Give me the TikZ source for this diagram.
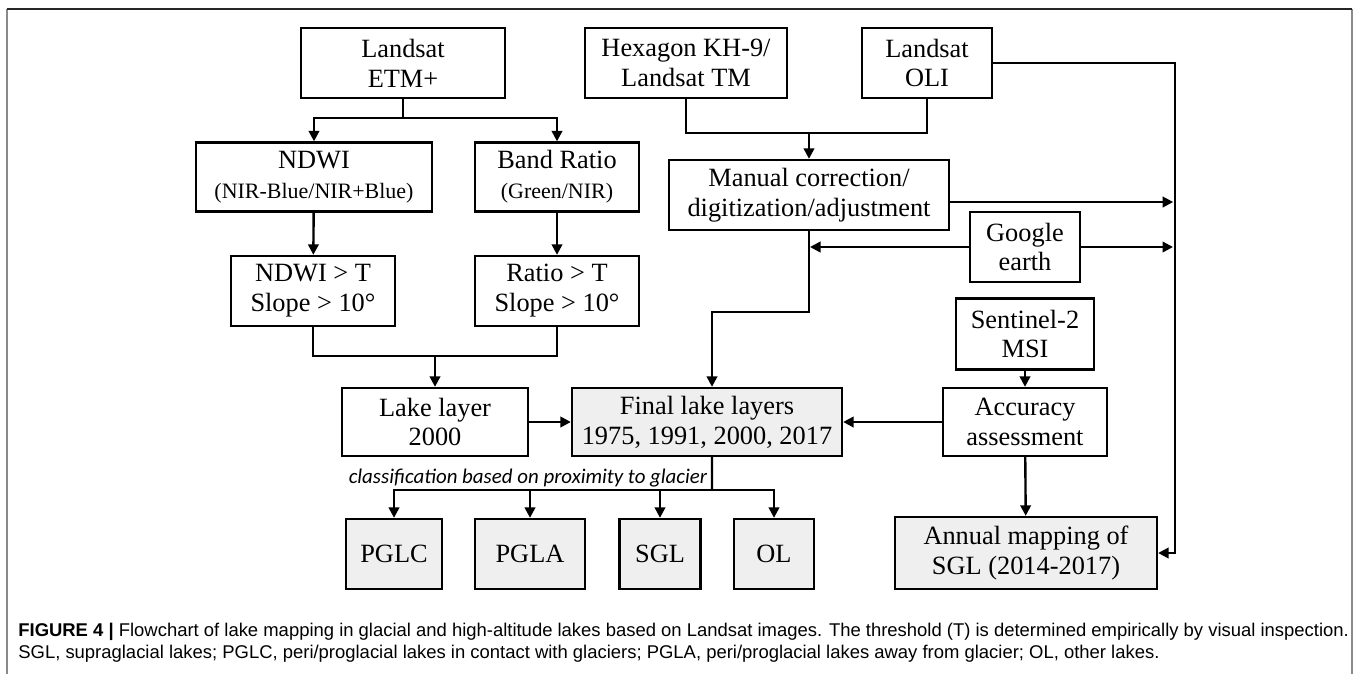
\documentclass[tikz,border=0pt]{standalone}
\usepackage{fontspec}
\setmainfont{Liberation Serif}
\newfontfamily\capfont{Liberation Sans}
\newfontfamily\notefont{Carlito}
\usetikzlibrary{arrows.meta}
\definecolor{layergray}{HTML}{EFEFEF}
\definecolor{framegray}{HTML}{8A8A8A}

\begin{document}
\begin{tikzpicture}[x=0.02cm,y=-0.02cm,
    box/.style={draw,line width=1.35pt,align=center,inner sep=0pt,font=\fontsize{15}{17}\selectfont},
    layer/.style={box,fill=layergray},
    link/.style={line width=1.35pt},
    arr/.style={link,-{Triangle[length=0.21cm,width=0.21cm]}}]
  \useasboundingbox (0,0) rectangle (1360,674);
  \def\sub#1{{\fontsize{12.5}{14}\selectfont #1}}
  % frame
  \draw[framegray,line width=1.2pt] (7,9) -- (7,674) (1352,9) -- (1352,674);
  \draw[black!85,line width=1pt] (7,9) -- (1352,9);

  % sources
  \node[box,minimum width=4.08cm,minimum height=1.4cm] (etm) at (403,63) {Landsat\\ETM+};
  \node[box,minimum width=4.04cm,minimum height=1.4cm] (hex) at (686,63) {Hexagon KH-9/\\Landsat TM};
  \node[box,minimum width=2.6cm,minimum height=1.4cm] (oli) at (927,63) {Landsat\\OLI};

  % left branch
  \node[box,minimum width=4.72cm,minimum height=1.38cm] (ndwi) at (314,177) {NDWI\\\sub{(NIR-Blue/NIR+Blue)}};
  \node[box,minimum width=3.28cm,minimum height=1.38cm] (band) at (557,177) {Band Ratio\\\sub{(Green/NIR)}};
  \node[box,minimum width=3.28cm,minimum height=1.4cm] (ndwit) at (313,291) {NDWI > T\\Slope > 10°};
  \node[box,minimum width=3.28cm,minimum height=1.4cm] (ratiot) at (557,291) {Ratio > T\\Slope > 10°};
  \node[box,minimum width=3.72cm,minimum height=1.36cm] (lake) at (435,422) {Lake layer\\2000};
  \node[layer,minimum width=5.4cm,minimum height=1.36cm] (final) at (707,422) {Final lake layers\\1975, 1991, 2000, 2017};

  % right branch
  \node[box,minimum width=5.6cm,minimum height=1.4cm] (manual) at (809,195) {Manual correction/\\digitization/adjustment};
  \node[box,minimum width=2.2cm,minimum height=1.4cm] (google) at (1025,247) {Google\\earth};
  \node[box,minimum width=2.76cm,minimum height=1.42cm] (sentinel) at (1025,334) {Sentinel-2\\MSI};
  \node[box,minimum width=3.28cm,minimum height=1.36cm] (accuracy) at (1025,422) {Accuracy\\assessment};
  \node[layer,minimum width=5.24cm,minimum height=1.44cm] (annual) at (1026,553) {Annual mapping of\\SGL (2014-2017)};

  % classes
  \node[layer,minimum width=1.92cm,minimum height=1.4cm] (pglc) at (394,554) {PGLC};
  \node[layer,minimum width=2.2cm,minimum height=1.4cm] (pgla) at (530,554) {PGLA};
  \node[layer,minimum width=1.62cm,minimum height=1.4cm] (sgl) at (660,554) {SGL};
  \node[layer,minimum width=1.6cm,minimum height=1.4cm] (ol) at (774,554) {OL};

  % connectors
  \coordinate (etmsplit) at (403,118);
  \draw[link] (etm) -- (etmsplit);
  \draw[arr] (etmsplit) -| (ndwi);
  \draw[arr] (etmsplit) -| (band);
  \draw[arr] (ndwi) -- (ndwit);
  \draw[arr] (band) -- (ratiot);
  \coordinate (join) at (435,356);
  \draw[link] (ndwit) |- (join);
  \draw[link] (ratiot) |- (join);
  \draw[arr] (join) -- (lake);
  \draw[arr] (lake) -- (final);

  \coordinate (merge) at (809,133);
  \draw[link] (hex) |- (merge);
  \draw[link] (oli) |- (merge);
  \draw[arr] (merge) -- (manual);
  \coordinate (side) at (1175,63);
  \draw[arr] (oli) -- (side) |- (annual);
  \draw[arr] ([yshift=-0.14cm]manual.east) -- ++(223,0);
  \coordinate (bend) at (809,312);
  \draw[arr] (manual) -- (bend) -| ([xshift=0.1cm]final.north);
  \draw[arr] (google) -- (810,247);
  \draw[arr] (google) -- (1173,247);
  \draw[arr] (sentinel) -- (accuracy);
  \draw[arr] (accuracy) -- (final);
  \draw[arr] (accuracy) -- (annual);

  \coordinate (cls) at (712,490);
  \draw[link] ([xshift=0.1cm]final.south) -- (cls);
  \foreach \n in {pglc,pgla,sgl,ol}
    \draw[arr] (cls) -| (\n);
  \node[font=\notefont\itshape\fontsize{11.9}{13}\selectfont,inner sep=0pt] (clsnote) at (528,478) {classification based on proximity to glacier};

  % caption
  \node[anchor=base west,inner sep=0pt,font=\capfont\fontsize{10.5}{12}\selectfont] (cap1) at (18,636)
    {\textbf{FIGURE 4 |} Flowchart of lake mapping in glacial and high-altitude lakes based on Landsat images. The threshold (T) is determined empirically by visual inspection.};
  \node[anchor=base west,inner sep=0pt,font=\capfont\fontsize{10.5}{12}\selectfont] (cap2) at (18,658)
    {SGL, supraglacial lakes; PGLC, peri/proglacial lakes in contact with glaciers; PGLA, peri/proglacial lakes away from glacier; OL, other lakes.};
\end{tikzpicture}
\end{document}
